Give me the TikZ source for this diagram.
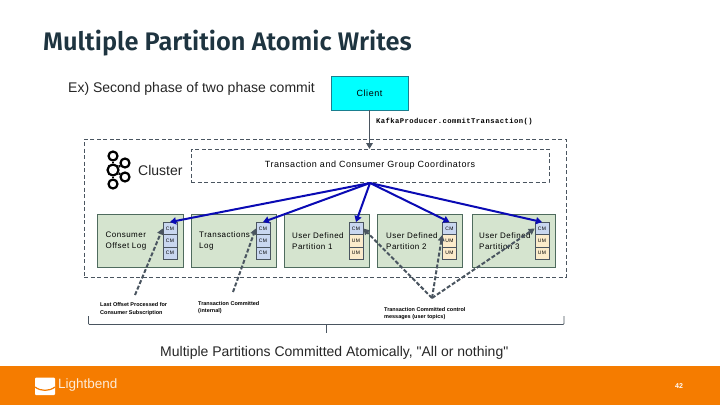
\documentclass[tikz,border=0pt]{standalone}
\usepackage{fontspec}
\setmainfont{Liberation Sans}
\newfontfamily\plainfont{Liberation Sans}
\newfontfamily\titlefont{Fira Sans SemiBold}
\newfontfamily\spaced[LetterSpace=6]{Liberation Sans}
\newfontfamily\codefont[LetterSpace=6]{Liberation Mono Bold}
\usetikzlibrary{arrows.meta}
\definecolor{dk}{HTML}{4A5560}
\definecolor{bandc}{HTML}{F57C00}
\definecolor{titlec}{HTML}{1E3440}
\definecolor{greenc}{HTML}{D5E4CF}
\definecolor{greenl}{HTML}{4F6B5E}
\definecolor{bluec}{HTML}{C9D7F0}
\definecolor{creamc}{HTML}{FBEBCB}
\definecolor{arrowb}{HTML}{0A0AB4}
\definecolor{clientc}{HTML}{00FFFF}
\definecolor{clientl}{HTML}{1A7F8F}
\tikzset{
  x=1pt,y=-1pt,
  dashbox/.style={draw=dk,dashed,dash pattern=on 4pt off 2.5pt,line width=.7pt},
  greenbox/.style={draw=greenl,fill=greenc,line width=.7pt,minimum height=53,inner sep=0pt},
  cellcm/.style={draw=dk,fill=bluec,line width=.6pt,minimum width=14,minimum height=12.3,inner sep=0pt,font=\spaced\fontsize{5}{5}\selectfont},
  cellum/.style={cellcm,fill=creamc},
  boxlabel/.style={align=left,anchor=west,inner sep=0pt,font=\spaced\fontsize{8}{11}\selectfont},
  notelabel/.style={align=left,anchor=north west,inner sep=0pt,font=\bfseries\fontsize{5.5}{7.4}\selectfont},
  bluearrow/.style={draw=arrowb,line width=2pt,-{Triangle[length=6pt,width=7pt]}},
  grayarrow/.style={draw=dk,line width=2pt,dash pattern=on 4pt off 2pt,-{Triangle[length=6pt,width=6.5pt]}},
  kring/.style={draw=black,line width=2.2pt,fill=white,circle,inner sep=0pt,minimum size=9pt},
}
\begin{document}
\begin{tikzpicture}
\useasboundingbox (0,0) rectangle (720,405);
\fill[white] (0,0) rectangle (720,405);
\node[anchor=base west,inner sep=0pt,text=titlec,font=\titlefont\fontsize{25.4}{26}\selectfont] (title) at (43,50) {Multiple Partition Atomic Writes};
\node[anchor=west,inner sep=0pt,font=\fontsize{14}{14}\selectfont,text=black!85] (sub) at (68,88.5) {Ex) Second phase of two phase commit};
\node[draw=clientl,fill=clientc,line width=.7pt,minimum width=77,minimum height=34,inner sep=0pt,font=\spaced\fontsize{9}{9}\selectfont] (client) at (369.5,93) {Client};
\node[anchor=west,inner sep=0pt,font=\codefont\fontsize{7.2}{7.2}\selectfont] (api) at (376,122) {KafkaProducer.commitTransaction()};

\node[dashbox,minimum width=482,minimum height=138,inner sep=0pt] (outer) at (325,208) {};
\node[dashbox,minimum width=358,minimum height=33,inner sep=0pt,font=\spaced\fontsize{9}{9}\selectfont] (coord) at (370,165.5) {Transaction and Consumer Group Coordinators};
\coordinate (coordtop) at (369.5,149);
\coordinate (hub) at (370,183);
\draw[draw=dk,line width=1.8pt,-{Triangle[length=6pt,width=6.5pt]}] (client.south) -- (coordtop);

% logo
\node[kring,minimum size=11pt] (kc) at (113,170) {};
\node[kring] (kt) at (113,156) {};
\node[kring] (kb) at (113,184) {};
\node[kring] (kr1) at (125,163) {};
\node[kring] (kr2) at (125,177) {};
\foreach \k in {kt,kb,kr1,kr2} \draw[line width=2.2pt] (kc) -- (\k);
\node[anchor=west,inner sep=0pt,font=\fontsize{14}{14}\selectfont,text=black!85] (cluster) at (138,170) {Cluster};

% boxes
\node[greenbox,minimum width=86] (b1) at (140,240.5) {};
\node[greenbox,minimum width=85] (b2) at (233.5,240.5) {};
\node[greenbox,minimum width=85] (b3) at (326.5,240.5) {};
\node[greenbox,minimum width=85] (b4) at (419.5,240.5) {};
\node[greenbox,minimum width=83] (b5) at (513.5,240.5) {};
\node[boxlabel] (l1) at (105.5,241) {Consumer\\Offset Log};
\node[boxlabel] (l2) at (199,241) {Transactions\\Log};
\node[boxlabel] (l3) at (292,241) {User Defined\\Partition 1};
\node[boxlabel] (l4) at (386,241) {User Defined\\Partition 2};
\node[boxlabel] (l5) at (479,241) {User Defined\\Partition 3};

% cells
\node[cellcm] (c1a) at (170,228.5) {CM};
\node[cellcm] (c1b) at (170,240.8) {CM};
\node[cellcm] (c1c) at (170,253.1) {CM};
\node[cellcm] (c2a) at (263,228.5) {CM};
\node[cellcm] (c2b) at (263,240.8) {CM};
\node[cellcm] (c2c) at (263,253.1) {CM};
\node[cellcm] (c3a) at (356,228.5) {CM};
\node[cellum] (c3b) at (356,240.8) {UM};
\node[cellum] (c3c) at (356,253.1) {UM};
\node[cellcm] (c4a) at (449.5,228.5) {CM};
\node[cellum] (c4b) at (449.5,240.8) {UM};
\node[cellum] (c4c) at (449.5,253.1) {UM};
\node[cellcm] (c5a) at (542,228.5) {CM};
\node[cellum] (c5b) at (542,240.8) {UM};
\node[cellum] (c5c) at (542,253.1) {UM};

% blue arrows
\draw[bluearrow] (hub) -- (c1a.north);
\draw[bluearrow] (hub) -- (c2a.north);
\draw[bluearrow] (hub) -- (c3a.north);
\draw[bluearrow] (hub) -- (c4a.north);
\draw[bluearrow] (hub) -- (c5a.north);

% notes
\node[notelabel] (n1) at (100,302.5) {Last Offset Processed for\\Consumer Subscription};
\node[notelabel] (n2) at (198,301) {Transaction Committed\\(internal)};
\node[notelabel] (n3) at (384,307) {Transaction Committed control\\messages (user topics)};
\coordinate (s1) at (135,295);
\coordinate (s2) at (233,292);
\coordinate (s3) at (432,298);
\draw[grayarrow] (s1) -- (c1a.west);
\draw[grayarrow] (s2) -- (c2a.west);
\draw[grayarrow] (s3) -- (c3a.east);
\draw[grayarrow] (s3) -- (c4a.south west);
\draw[grayarrow] (s3) -- (c5a.west);

% bracket
\coordinate (brl) at (88.5,316);
\coordinate (brr) at (564,316);
\coordinate (brc) at (326,324.5);
\coordinate (brt) at (326,333);
\draw[dk,line width=.7pt,rounded corners=1pt] (brl) -- (88.5,324.5) -- (564,324.5) -- (brr);
\draw[dk,line width=.7pt] (brc) -- (brt);
\node[anchor=west,inner sep=0pt,font=\plainfont\fontsize{14}{14}\selectfont,text=black!85] (all) at (160,352.5) {Multiple Partitions Committed Atomically, "All or nothing"};

% footer
\fill[bandc] (0,366) rectangle (720,405);
\fill[white,rounded corners=1pt] (35,377.5) rectangle (55,395);
\draw[bandc,line width=1.2pt] (35,387) .. controls (41,391.5) and (49,391.5) .. (55,387);
\node[anchor=west,inner sep=0pt,text=white!85!bandc,font=\fontsize{13.5}{13.5}\selectfont] (lb) at (58,385.5) {Lightbend};
\node[inner sep=0pt,text=white,font=\bfseries\fontsize{7}{7}\selectfont] (pg) at (679,386) {42};
\end{tikzpicture}
\end{document}
